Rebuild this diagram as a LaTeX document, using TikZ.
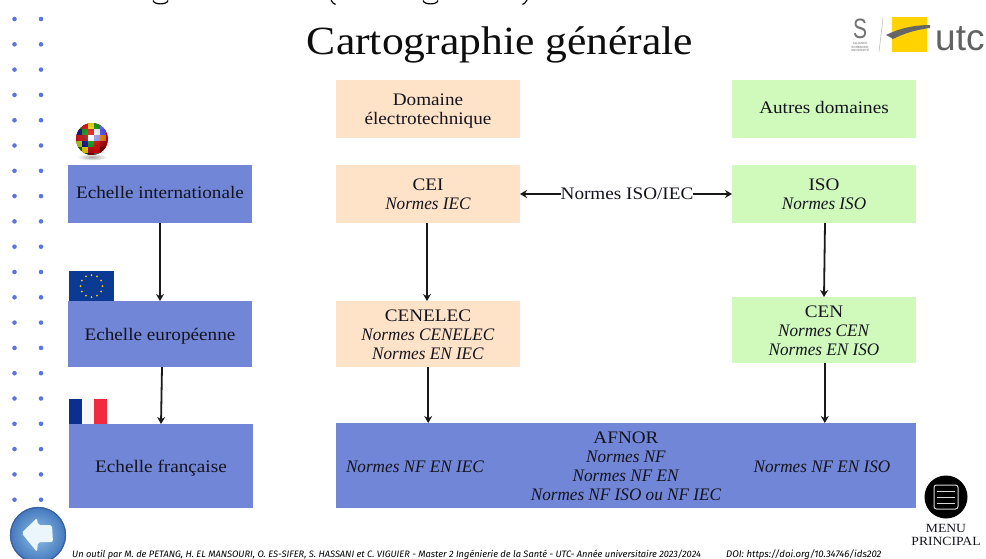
\documentclass[tikz,border=0pt]{standalone}
\usepackage{fontspec}
\setmainfont{Liberation Serif}[FakeStretch=1.09,ItalicFeatures={FakeStretch=0.975}]
\newfontfamily\footfont{Fira Sans}
\newfontfamily\logofont{Liberation Sans}
\newfontfamily\slogofont{Liberation Sans}[FakeStretch=0.75]
\usetikzlibrary{arrows.meta}
\definecolor{bleu}{HTML}{7186D6}
\definecolor{peche}{HTML}{FFE3C9}
\definecolor{vert}{HTML}{D0F9BC}
\definecolor{dotblue}{HTML}{5B74E0}
\definecolor{encre}{HTML}{14141E}
\definecolor{jaune}{HTML}{FFD200}
\definecolor{eubleu}{HTML}{0B3A94}
\definecolor{frbleu}{HTML}{0B2F8F}
\definecolor{frrouge}{HTML}{EF2B3D}
\definecolor{btnin}{HTML}{8FC0E8}
\definecolor{btnout}{HTML}{4478BC}
\definecolor{btnrim}{HTML}{3A5FA0}
\definecolor{btnfl}{HTML}{EAF6FB}
\newcommand{\basseun}{\rule{0pt}{14pt}}
\newcommand{\bassedeux}{\rule{0pt}{15.5pt}}
\tikzset{
  boite/.style={inner sep=0pt,outer sep=0pt,align=center,text=encre,minimum width=184pt,
    font=\fontsize{17.6}{19}\selectfont},
  bleue/.style={boite,fill=bleu},
  pechee/.style={boite,fill=peche},
  verte/.style={boite,fill=vert},
  libre/.style={inner sep=0pt,outer sep=0pt,align=center,text=encre,font=\fontsize{17.6}{19}\selectfont},
  fleche/.style={draw=black!90,line width=1.8pt,-{Stealth[length=7pt,width=8pt]}},
  double/.style={draw=black!90,line width=1.8pt,{Stealth[length=7pt,width=8pt]}-},
  bribe/.style={draw=black,line width=1.2pt},
  plusbas/.style={text height=16pt,text depth=3.8pt},
  plushaut/.style={text height=13pt,text depth=3.8pt},
}
\begin{document}
\begin{tikzpicture}[x=1pt,y=-1pt]
\useasboundingbox (0,0) rectangle (986,558);
\clip (0,0) rectangle (986,558);
\fill[white] (0,0) rectangle (986,558);
% remains of a line cut off at the top edge
\draw[bribe] (153,0.5) .. controls (154,5) and (167,5) .. (168,0.5);
\draw[bribe] (331,0) .. controls (332,2.5) and (333.5,3.5) .. (335.5,4.5);
\draw[bribe] (423,0.5) .. controls (424,5) and (437,5) .. (438,0.5);
\draw[bribe] (527,0) .. controls (526,2.5) and (524.5,3.5) .. (522.5,4.5);
% dots
\foreach \i in {0,...,19}{
  \fill[dotblue] (14.5,19+25.3*\i) circle (2.3pt);
  \fill[dotblue] (41,19+25.3*\i) circle (2.3pt);
}
% title
\node[anchor=base,inner sep=0pt,font=\fontsize{40}{40}\selectfont,text=black!95] (titre) at (500,54) {Cartographie générale};
% boxes
\node[bleue,plushaut,minimum height=58pt] (intl) at (160,194) {Echelle internationale};
\node[bleue,plusbas,minimum height=66pt] (eur) at (160,334) {Echelle européenne};
\node[bleue,plusbas,minimum height=84pt] (fr) at (161,466) {Echelle française};
\node[pechee,minimum height=58pt] (dom) at (428,109) {\bassedeux Domaine\\électrotechnique};
\node[verte,plushaut,minimum height=58pt] (aut) at (824,109) {Autres domaines};
\node[pechee,minimum height=58pt] (cei) at (428,194) {CEI\\\textit{Normes IEC}};
\node[verte,minimum height=58pt] (iso) at (824,194) {ISO\\\textit{Normes ISO}};
\node[pechee,minimum height=66pt] (cenelec) at (428,334) {\basseun CENELEC\\\textit{Normes CENELEC}\\\textit{Normes EN IEC}};
\node[verte,minimum height=66pt] (cen) at (824,330) {\basseun CEN\\\textit{Normes CEN}\\\textit{Normes EN ISO}};
\node[bleue,minimum width=580pt,minimum height=85pt] (afnor) at (626,465.5) {\basseun AFNOR\\\textit{Normes NF}\\\textit{Normes NF EN}\\\textit{Normes NF ISO ou NF IEC}};
\node[libre] (nfiec) at (415,466.7) {\textit{Normes NF EN IEC}};
\node[libre] (nfiso) at (822,466.7) {\textit{Normes NF EN ISO}};
\node[libre,fill=white] (isoiec) at (627,194) {Normes ISO/IEC};
% connectors
\draw[fleche] (intl.south) -- (eur.north);
\draw[fleche] ([xshift=2pt]eur.south) -- (fr.north);
\draw[fleche] ([xshift=-1pt]cei.south) -- ([xshift=-1pt]cenelec.north);
\draw[fleche] ([xshift=1pt]iso.south) -- (cen.north);
\draw[fleche] ([xshift=0.2pt]cenelec.south) -- ([xshift=0.2pt]cenelec.south |- afnor.north);
\draw[fleche] ([xshift=0.8pt]cen.south) -- ([xshift=0.8pt]cen.south |- afnor.north);
\draw[double] (cei.east) -- (isoiec.west);
\draw[fleche] (isoiec.east) -- (iso.west);
% globe
\shade[inner color=black!35,outer color=white] (92,157) ellipse (15 and 3.5);
\begin{scope}
\clip (92,139) circle (16);
\fill[red!80!black] (76,123) rectangle (108,155);
\foreach \cx/\cy/\cc in {76/123/green!50!black,82/123/red!85!black,88/123/yellow!80!orange,94/123/green!60!black,100/123/blue!60!white,
  76/129/blue!50!black,82/129/green!55!black,88/129/red!90!black,94/129/white,100/129/blue!70!white,
  76/135/red!85!black,82/135/red!70!black,88/135/white,94/135/blue!40!white,100/135/orange,
  76/141/yellow!70!green,82/141/blue!55!black,88/141/green!60!black,94/141/red!85!black,100/141/red!70!black,
  76/147/green!50!black,82/147/yellow!80!orange,88/147/red!80!black,94/147/red!90!black,100/147/red!50!black,
  76/153/black!60,82/153/green!40!black,88/153/red!50!black,94/153/black!60}{
  \fill[\cc] (\cx,\cy) rectangle ++(6,6);
}
\shade[inner color=white,outer color=black,opacity=.22] (90,135) circle (20);
\end{scope}
% EU flag
\fill[eubleu] (69,271) rectangle (114,301);
\foreach \a in {0,30,...,330}{
  \fill[jaune] ({91.5+11*cos(\a)},{286+11*sin(\a)}) circle (1pt);
}
% French flag
\fill[frbleu] (69,399) rectangle (81.5,424);
\fill[black!3] (81.5,399) rectangle (94,424);
\fill[frrouge] (94,399) rectangle (107,424);
% logos
\node[anchor=base,inner sep=0pt,font=\slogofont\fontsize{28}{28}\selectfont,text=black!55,text depth=0pt] (slogo) at (860,38) {S};
\node[inner sep=0pt,align=center,font=\logofont\fontsize{3}{3.2}\selectfont,text=black!60] (alliance) at (860,47) {ALLIANCE\\SORBONNE\\UNIVERSITÉ};
\draw[black!25,line width=.6pt] (883,18) -- (879,52);
\fill[jaune] (892,17) rectangle (927,52);
\fill[black!60] (886,35) .. controls (900,28) and (915,25) .. (930,25) -- (930,28) .. controls (915,30) and (905,33) .. (893,39) .. controls (890,37) and (888,36) .. (886,35) -- cycle;
\node[inner sep=0pt,anchor=base west,font=\logofont\fontsize{37}{37}\selectfont,text=black!62] (utc) at (935,50) {utc};
% back button
\shade[inner color=btnin,outer color=btnout] (38,535) circle (28);
\draw[btnrim,line width=1.2pt] (38,535) circle (27.5);
\fill[btnfl,rounded corners=2pt] (21.5,533) -- (37,518) -- (38,525) -- (52,525) -- (53,542) -- (38,542) -- (37,552) -- cycle;
% menu button
\fill[black] (946,497) circle (21.5);
\draw[white!85!black,line width=1pt,rounded corners=2.5pt] (934,485) rectangle (958,509);
\foreach \yy in {491,497,503} \draw[white!85!black,line width=1pt] (937,\yy) -- (955,\yy);
\node[inner sep=0pt,align=center,text=encre,font=\fontsize{12.5}{13}\selectfont] (menu) at (946,535) {MENU\\PRINCIPAL};
% footer
\node[inner sep=0pt,anchor=base west,font=\footfont\itshape\fontsize{9.3}{9}\selectfont,text=black] (pied) at (72,557) {Un outil par M. de PETANG, H. EL MANSOURI, O. ES-SIFER, S. HASSANI et C. VIGUIER - Master 2 Ingénierie de la Santé - UTC- Année universitaire 2023/2024};
\node[inner sep=0pt,anchor=base west,font=\footfont\itshape\fontsize{9.6}{9}\selectfont,text=black] (doi) at (726,557) {DOI: https://doi.org/10.34746/ids202};
\end{tikzpicture}
\end{document}
